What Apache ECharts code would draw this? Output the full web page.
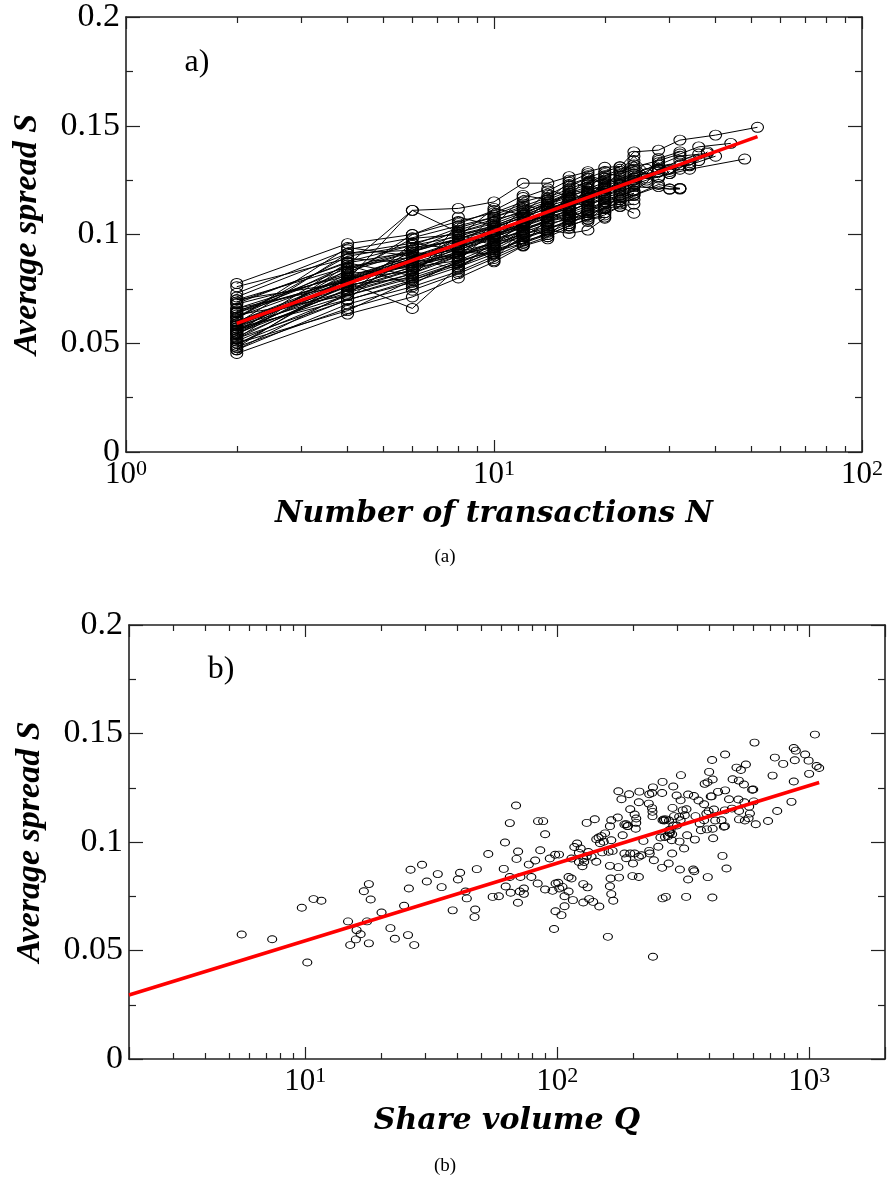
<!DOCTYPE html>
<html>
<head>
<meta charset="utf-8">
<title>Average spread vs N and Q</title>
<script src="https://cdn.jsdelivr.net/npm/echarts@6.0.0/dist/echarts.min.js"></script>
<style>
html, body { margin: 0; padding: 0; background: #fff; }
#chart { width: 890px; height: 1182px; }
</style>
</head>
<body>
<div id="chart"></div>
<script>
// a) average spread S against number of transactions N, one polyline per stock
var transactionLines = [
  [[2,.0775],[4,.0958],[6,.1000],[8,.1060],[10,.1100],[12,.1150],[14,.1180],[16,.1230],[18,.1260],[20,.1290],[22,.1310],[24,.1380],[28,.1388],[32,.1434],[40,.1457],[52,.1493]],
  [[2,.0730],[4,.0930],[6,.0985],[8,.1040],[10,.1080],[12,.1120],[14,.1160],[16,.1200],[18,.1230],[20,.1260],[22,.1290],[24,.1310],[28,.1340],[32,.1370],[36,.1403],[44,.1419]],
  [[2,.0713],[4,.0912],[6,.0960],[8,.1010],[10,.1060],[12,.1110],[14,.1150],[16,.1180],[18,.1200],[20,.1230],[24,.1280],[28,.1320],[34,.1316],[38,.1380]],
  [[2,.0683],[4,.0875],[6,.0950],[8,.0990],[10,.1040],[12,.1090],[14,.1130],[16,.1160],[18,.1190],[20,.1210],[24,.1250],[28,.1266],[34,.1300],[48,.1347]],
  [[2,.0644],[4,.0845],[6,.0930],[8,.0980],[10,.1020],[12,.1060],[14,.1100],[16,.1130],[18,.1160],[20,.1180],[22,.1200],[24,.1220],[30,.1209],[32,.1212]],
  [[2,.0621],[4,.0805],[6,.0900],[8,.0960],[10,.1000],[12,.1040],[14,.1080],[16,.1110],[18,.1140],[20,.1160],[22,.1180],[24,.1200],[26,.1240],[28,.1300],[32,.1320],[36,.1340]],
  [[2,.0598],[4,.0790],[6,.0880],[8,.0940],[10,.0990],[12,.1030],[14,.1060],[16,.1090],[18,.1120],[20,.1150],[22,.1170],[24,.1190]],
  [[2,.0583],[4,.0780],[6,.0870],[8,.0930],[10,.0980],[12,.1010],[14,.1050],[16,.1070],[18,.1090],[20,.1120],[22,.1150],[24,.1160]],
  [[2,.0560],[4,.0760],[6,.0850],[8,.0920],[10,.0960],[12,.1000],[14,.1030],[16,.1060],[18,.1080],[20,.1100],[22,.1128],[24,.1098]],
  [[2,.0545],[4,.0744],[6,.0836],[8,.0900],[10,.0950],[12,.0990],[14,.1020],[16,.1005],[18,.1020],[20,.1075]],
  [[2,.0522],[4,.0698],[6,.0790],[8,.0870],[10,.0930],[12,.0970],[14,.1000],[16,.1040],[18,.1070],[20,.1080]],
  [[2,.0483],[4,.0660],[6,.0744],[8,.0820],[10,.0890],[12,.0950],[14,.0990],[16,.1030]],
  [[2,.0453],[4,.0634],[6,.0713],[8,.0800],[10,.0874],[12,.0947],[14,.0980]],
  [[2,.0500],[4,.0700],[6,.0780],[8,.0850],[10,.0910],[12,.0980],[14,.1020],[16,.1070],[18,.1100],[20,.1140],[22,.1160]],
  [[2,.0560],[4,.0820],[6,.0982],[8,.1000],[10,.1030],[12,.1080],[14,.1120],[16,.1150],[18,.1180],[20,.1200]],
  [[2,.0590],[4,.0913],[6,.0928],[8,.1020],[10,.1070],[12,.1100],[14,.1140],[16,.1170],[18,.1210],[20,.1240],[22,.1260]],
  [[2,.0620],[4,.0860],[6,.1111],[8,.1120],[10,.1150],[12,.1236],[14,.1236],[16,.1266],[18,.1289],[20,.1309],[22,.1312]],
  [[2,.0650],[4,.0790],[6,.1111],[8,.1010],[10,.1050],[12,.1100],[14,.1140],[16,.1180]],
  [[2,.0580],[4,.0780],[6,.0660],[8,.0850],[10,.0930],[12,.1000]],
  [[2,.0600],[4,.0740],[6,.0820],[8,.0900],[10,.0960],[12,.1020],[14,.1060],[16,.1100],[18,.1130],[20,.1170],[22,.1190],[24,.1230],[26,.1250],[30,.1280],[32,.1300]],
  [[2,.0700],[4,.0850],[6,.0897],[8,.0950],[10,.1010],[12,.1050],[14,.1090],[16,.1120]],
  [[2,.0520],[4,.0770],[6,.0870],[8,.0910],[10,.0940],[12,.1020],[14,.1070],[16,.1100],[18,.1150],[20,.1180],[22,.1210],[24,.1250],[28,.1290]],
  [[2,.0560],[4,.0720],[6,.0810],[8,.0880],[10,.0920],[12,.0960],[14,.1010],[16,.1050],[18,.1100],[20,.1120],[24,.1140]],
  [[2,.0600],[4,.0800],[6,.0900],[8,.0970],[10,.1010],[12,.1060],[14,.1110],[16,.1160],[18,.1190],[20,.1220],[22,.1250],[24,.1270],[26,.1280],[30,.1300],[34,.1320],[40,.1360]],
  [[2,.0470],[4,.0680],[6,.0760],[8,.0830],[10,.0900],[12,.0960],[14,.1000],[16,.1040],[18,.1070],[20,.1090],[22,.1130],[24,.1180],[28,.1230],[32,.1212]],
  [[2,.0530],[4,.0750],[6,.0840],[8,.0940],[10,.1000],[12,.1040],[14,.1090],[16,.1120],[18,.1160],[20,.1190],[22,.1220],[24,.1240]],
  [[2,.0640],[4,.0830],[6,.0920],[8,.0980],[10,.1030],[12,.1080],[14,.1120],[16,.1150],[18,.1170],[20,.1210]],
  [[2,.0570],[4,.0790],[6,.0890],[8,.0950],[10,.0990],[12,.1050],[14,.1100],[16,.1140],[18,.1180],[20,.1210],[22,.1240],[24,.1260],[28,.1320],[32,.1360],[38,.1373]],
  [[2,.0510],[4,.0720],[6,.0800],[8,.0870],[10,.0940],[12,.1010]],
  [[2,.0540],[4,.0800],[6,.0860],[8,.0900],[10,.0970],[12,.1020],[14,.1060],[16,.1080],[18,.1110],[20,.1150],[22,.1180],[24,.1200]],
  [[2,.0620],[4,.0900],[6,.0950],[8,.1030],[10,.1080],[12,.1130],[14,.1170],[16,.1210],[18,.1240],[20,.1270],[22,.1300],[24,.1320]],
  [[2,.0660],[4,.0820],[6,.0850],[8,.0880],[10,.0950]],
  [[2,.0690],[4,.0870],[6,.0920],[8,.1000],[10,.1040],[12,.1090],[14,.1150],[16,.1190],[18,.1220]],
  [[2,.0590],[4,.0760],[6,.0850],[8,.0910],[10,.0960],[12,.1000],[14,.1040],[16,.1080],[18,.1110],[20,.1140],[22,.1160],[24,.1180],[28,.1220],[30,.1209],[32,.1209]],
  [[2,.0500],[4,.0650],[6,.0790],[8,.0860],[10,.0920],[12,.0980],[14,.1030],[16,.1050],[18,.1090],[20,.1120]],
  [[2,.0550],[4,.0780],[6,.0880],[8,.0940],[10,.1000],[12,.1050],[14,.1090],[16,.1130],[18,.1170],[20,.1200],[22,.1230],[24,.1260],[26,.1260],[28,.1300],[32,.1340],[36,.1370]],
  [[2,.0480],[4,.0800],[6,.0830],[8,.0960],[10,.0990],[12,.1070],[14,.1080],[16,.1160]],
  [[2,.0700],[4,.0780],[6,.0920],[8,.0890],[10,.1060],[12,.1010],[14,.1130],[16,.1100],[18,.1200],[20,.1150]],
  [[2,.0630],[4,.0720],[6,.0960],[8,.0930],[10,.0990],[12,.1120],[14,.1050],[16,.1200],[18,.1150],[20,.1260],[22,.1230],[24,.1290]],
  [[2,.0550],[4,.0870],[6,.0810],[8,.1000],[10,.0950],[12,.1060],[14,.1150],[16,.1090],[18,.1240],[20,.1190]],
  [[2,.0760],[4,.0890],[6,.0870],[8,.0990],[10,.1120],[12,.1090],[14,.1200],[16,.1250],[18,.1210],[20,.1280],[22,.1270],[24,.1340],[26,.1280],[28,.1350],[32,.1380]],
  [[2,.0470],[4,.0730],[6,.0890],[8,.0840],[10,.0970],[12,.1040],[14,.0990],[16,.1080]],
  [[2,.0610],[4,.0940],[6,.0900],[8,.0930],[10,.1090],[12,.1140],[14,.1100],[16,.1220],[18,.1260],[20,.1230],[22,.1280],[24,.1300],[28,.1260],[30,.1290]],
  [[2,.0520],[4,.0860],[6,.0770],[8,.0880],[10,.1020],[12,.0950],[14,.1080],[16,.1150],[18,.1130]],
  [[2,.0680],[4,.0810],[6,.1000],[8,.1080],[10,.1040],[12,.1170],[14,.1210],[16,.1170],[18,.1270],[20,.1250]],
  [[2,.0570],[4,.0700],[6,.0940],[8,.0970],[10,.0880],[12,.1030],[14,.1120],[16,.1040],[18,.1140],[20,.1100],[22,.1200]],
  [[2,.0660],[4,.0770],[6,.0800],[8,.1050],[10,.1110],[12,.1180],[14,.1160],[16,.1240],[18,.1280],[20,.1220],[22,.1290],[24,.1360],[26,.1300],[28,.1330],[30,.1280],[34,.1330]],
  [[2,.0490],[4,.0780],[6,.0860],[8,.0920],[10,.0910],[12,.0990],[14,.1060],[16,.1120],[18,.1060],[20,.1130],[22,.1140],[24,.1190]],
  [[2,.0580],[6,.0820],[10,.0990],[16,.1110],[20,.1170]],
  [[2,.0640],[6,.0890],[12,.1060],[18,.1190],[24,.1230]],
  [[2,.0540],[4,.0840],[8,.0980],[12,.1080],[16,.1190],[20,.1220]]
]
var fitN = [2, 52]
var fitSpreadN = [0.0591, 0.145]

// b) average spread S against share volume Q, one point per stock
var volumeSpread = [
  [5.6,.0574],[7.4,.0552],[9.7,.0697],[10.8,.0737],[11.6,.0729],[10.2,.0445],
  [14.8,.0634],[15.1,.0525],[15.9,.0551],[16.0,.0594],[16.6,.0575],[17.1,.0773],[17.9,.0806],[18.2,.0735],[17.6,.0634],[17.9,.0533],
  [20.1,.0675],[21.8,.0603],[22.7,.0554],[24.7,.0706],[25.8,.0786],[25.6,.0571],[27.1,.0525],[26.2,.0872],[29.1,.0895],[30.4,.0818],
  [33.6,.0852],[34.8,.0792],[38.5,.0685],[40.4,.0827],[41.2,.0858],[43.3,.0772],[43.8,.0740],[47.3,.0689],[47.0,.0654],[48.0,.0875],
  [53.3,.0945],[55.5,.0747],[58.7,.0750],[61.4,.0876],[62.1,.0998],[64.9,.1087],[62.5,.0795],[64.9,.0839],[65.4,.0766],[68.7,.1168],
  [69.9,.0720],[71.1,.0772],[73.8,.0786],[73.8,.0761],[69.0,.0922],[70.0,.0956],[71.5,.0839],[79,.0839],[77.2,.0896],[81.8,.0915],
  [83.7,.0809],[85.7,.0962],[89.6,.1036],[84,.1096],[88,.1096],[89.6,.0781],[95.9,.0775],[98.6,.0809],[101,.0812],[102,.0786],
  [105,.0793],[111,.0772],[93.5,.0924],[98.2,.0941],[101.7,.0942],[98.5,.0681],[104,.0663],[97.2,.0599],[107,.0704],[107,.0750],
  [111,.0839],[114,.0832],[115.5,.0732],[117,.0977],[120,.0993],[124,.0970],[122,.0950],[114,.0924],[122,.0908],[127,.0924],
  [131,.0935],[133,.0954],[126,.0888],[128,.0908],[127,.0721],[127,.0806],[132,.0791],[134,.0737],[139,.0724],[147,.0703],
  [159,.0563],[162,.0796],[164,.0760],[167,.0729],[131,.1088],[141,.1105],[143,.1013],[146,.1021],[150,.1027],[153,.1001],
  [155,.1040],[148,.0994],[137,.0932],[143,.0909],[151,.0952],[160,.0955],[166,.0959],[164,.1008],[162,.1073],[164,.1100],
  [174,.1113],[162,.0890],[163,.0832],[175,.0884],[176,.0836],[182,.1031],[188,.1082],[191,.1074],[185,.0947],[188,.0925],
  [195,.0947],[200,.0901],[211,.0932],[216,.0939],[203,.0947],[199,.0843],[211,.0839],
  [240,.0471],[262,.0740],[270,.0747],[325,.0747],[413,.0744],
  [175,.1234],[180,.1197],[193,.1220],[212,.1232],[232,.1220],[238,.1226],[240,.1252],[261,.1226],[262,.1277],[289,.1256],[310,.1308],
  [211,.1183],[231,.1177],[238,.1156],[239,.1139],[239,.1119],[195,.1151],[203,.1127],[206,.1108],[206,.1088],[205,.1061],[190,.1073],[185,.1081],
  [298,.1214],[309,.1192],[331,.1219],[349,.1212],[364,.1191],[383,.1174],[410,.1210],
  [287,.1157],[291,.1119],[305,.1116],[299,.1076],[278,.1099],[266,.1099],[262,.1100],[315,.1146],[326,.1151],[321,.1123],[309,.1100],
  [289,.1076],[282,.1058],[279,.1044],[268,.1023],[265,.1104],[270,.1104],
  [354,.1119],[368,.1085],[383,.1100],[391,.1131],[399,.1142],[419,.1150],[424,.1099],[414,.1061],[416,.1017],[449,.1100],[463,.1073],[459,.1070],[463,.1146],
  [453,.0936],[470,.0878],[396,.0838],[331,.0827],[347,.0873],[350,.0865],[307,.0873],[277,.0901],[261,.0881],[286,.0947],[319,.0970],[306,.1002],[285,.1008],
  [242,.0916],[232,.0959],[233,.0947],[220,.1005],[252,.0978],[257,.1021],[280,.1042],[286,.1036],[278,.1054],[275,.1027],
  [328,.1031],[352,.1011],[372,.1054],[393,.1058],
  [385,.1268],[395,.1275],[401,.1323],[407,.1210],[412,.1378],[414,.1288],[435,.1231],[464,.1238],[464,.1403],[481,.1197],[494,.1154],
  [497,.1289],[515,.1343],[524,.1196],[526,.1283],[527,.1143],[527,.1104],[536,.1332],[551,.1265],[553,.1183],[556,.1099],[561,.1357],
  [575,.1110],[578,.1163],[582,.1131],[594,.1241],[600,.1242],[603,.1187],[607,.1458],[614,.1082],
  [687,.1097],[716,.1306],[731,.1389],[747,.1143],[789,.1360],[851,.1185],[869,.1279],[869,.1433],[877,.1377],[885,.1421],[964,.1403],
  [995,.1375],[1000,.1314],[1054,.1495],[1071,.1350],[1096,.1341]
]
var fitQ = [2, 1096]
var fitSpreadQ = [0.0295, 0.1274]

// minor ticks of the log axes
var minorTicksN = [2, 3, 4, 5, 6, 7, 8, 9, 20, 30, 40, 50, 60, 70, 80, 90]
var minorTicksQ = [3, 4, 5, 6, 7, 8, 9, 20, 30, 40, 50, 60, 70, 80, 90, 200, 300, 400, 500, 600, 700, 800, 900]

var serif = 'Liberation Serif'
var axisColor = '#222'

// 10^k labels, empty for the end ticks that are not powers of ten
function powerLabel (v) {
  var e = Math.log10(v)
  var k = Math.round(e)
  if (Math.abs(e - k) > 1e-6) return ''
  return '{b|10}{s|' + k + '}'
}

function logAxis (grid, pos, min, max, withLabels) {
  return {
    type: 'log',
    logBase: 10,
    gridIndex: grid,
    position: pos,
    min: min,
    max: max,
    axisLine: { show: true, onZero: false, lineStyle: { color: axisColor, width: 1.6 } },
    axisTick: { show: true, inside: true, length: 12, lineStyle: { color: axisColor, width: 1.2 } },
    splitLine: { show: false },
    axisLabel: {
      show: withLabels,
      margin: 6,
      formatter: powerLabel,
      rich: {
        b: { fontFamily: serif, fontSize: 31, color: '#000', lineHeight: 32, verticalAlign: 'bottom' },
        s: { fontFamily: serif, fontSize: 22, color: '#000', lineHeight: 32, verticalAlign: 'top' }
      }
    }
  }
}

function minorLogAxis (grid, pos, min, max, values) {
  return {
    type: 'log',
    logBase: 10,
    gridIndex: grid,
    position: pos,
    min: min,
    max: max,
    axisLine: { show: false, onZero: false },
    axisTick: { show: true, inside: true, length: 6, customValues: values, lineStyle: { color: axisColor, width: 1.2 } },
    axisLabel: { show: false },
    splitLine: { show: false }
  }
}

function spreadAxis (grid, pos, withLabels) {
  return {
    type: 'value',
    gridIndex: grid,
    position: pos,
    min: 0,
    max: 0.2,
    interval: 0.05,
    axisLine: { show: true, onZero: false, lineStyle: { color: axisColor, width: 1.6 } },
    axisTick: { show: true, inside: true, length: 14, lineStyle: { color: axisColor, width: 1.2 } },
    minorTick: { show: true, splitNumber: 2, length: 7, lineStyle: { color: axisColor, width: 1.2 } },
    splitLine: { show: false },
    axisLabel: { show: withLabels, margin: 6, fontFamily: serif, fontSize: 34, color: '#000' }
  }
}

var yTitle = {
  name: 'Average spread S',
  nameLocation: 'middle',
  nameGap: 82,
  nameTextStyle: { fontFamily: serif, fontSize: 34, fontWeight: 'bold', fontStyle: 'italic', color: '#000' }
}
var xTitleStyle = { fontFamily: 'DejaVu Serif', fontSize: 30, fontWeight: 'bold', fontStyle: 'italic', color: '#000' }

var xA = logAxis(0, 'bottom', 1, 100, true)
xA.name = 'Number of transactions N'
xA.nameLocation = 'middle'
xA.nameGap = 47
xA.nameTextStyle = xTitleStyle
var xB = logAxis(1, 'bottom', 2, 2000, true)
xB.name = 'Share volume Q'
xB.nameLocation = 'middle'
xB.nameGap = 47
xB.nameTextStyle = xTitleStyle

var yA = Object.assign(spreadAxis(0, 'left', true), yTitle)
var yB = Object.assign(spreadAxis(1, 'left', true), yTitle)

var series = []
transactionLines.forEach(function (line, i) {
  series.push({
    type: 'line',
    name: 'stock ' + (i + 1),
    xAxisIndex: 0,
    yAxisIndex: 0,
    data: line,
    symbol: 'circle',
    symbolSize: [12, 10],
    showSymbol: true,
    lineStyle: { color: '#000', width: 1 },
    itemStyle: { color: 'transparent', borderColor: '#000', borderWidth: 1 },
    emphasis: { disabled: true },
    silent: true,
    z: 2
  })
})
series.push({
  type: 'line',
  name: 'fit N',
  xAxisIndex: 0,
  yAxisIndex: 0,
  data: fitN.map(function (n, i) { return [n, fitSpreadN[i]] }),
  showSymbol: false,
  lineStyle: { color: '#ff0000', width: 3.5 },
  silent: true,
  z: 5
})
series.push({
  type: 'scatter',
  name: 'stocks Q',
  xAxisIndex: 2,
  yAxisIndex: 2,
  data: volumeSpread,
  symbol: 'circle',
  symbolSize: [9, 7],
  itemStyle: { color: 'transparent', borderColor: '#000', borderWidth: 1, opacity: 1 },
  emphasis: { disabled: true },
  silent: true,
  z: 2
})
series.push({
  type: 'line',
  name: 'fit Q',
  xAxisIndex: 2,
  yAxisIndex: 2,
  data: fitQ.map(function (q, i) { return [q, fitSpreadQ[i]] }),
  showSymbol: false,
  lineStyle: { color: '#ff0000', width: 3.5 },
  silent: true,
  z: 5
})

var myChart = echarts.init(document.getElementById('chart'))
var option = {
  animation: false,
  backgroundColor: '#fff',
  grid: [
    { left: 126, top: 17, width: 736, height: 435 },
    { left: 129, top: 625, width: 756, height: 434 }
  ],
  xAxis: [
    xA,
    logAxis(0, 'top', 1, 100, false),
    xB,
    logAxis(1, 'top', 2, 2000, false),
    minorLogAxis(0, 'bottom', 1, 100, minorTicksN),
    minorLogAxis(0, 'top', 1, 100, minorTicksN),
    minorLogAxis(1, 'bottom', 2, 2000, minorTicksQ),
    minorLogAxis(1, 'top', 2, 2000, minorTicksQ)
  ],
  yAxis: [
    yA,
    spreadAxis(0, 'right', false),
    yB,
    spreadAxis(1, 'right', false)
  ],
  graphic: [
    { type: 'text', x: 197, y: 63, style: { text: 'a)', font: '32px "Liberation Serif"', fill: '#000', align: 'center', verticalAlign: 'middle' } },
    { type: 'text', x: 221, y: 670, style: { text: 'b)', font: '32px "Liberation Serif"', fill: '#000', align: 'center', verticalAlign: 'middle' } },
    { type: 'text', x: 445, y: 557, style: { text: '(a)', font: '19px "Liberation Serif"', fill: '#000', align: 'center', verticalAlign: 'middle' } },
    { type: 'text', x: 445, y: 1166, style: { text: '(b)', font: '19px "Liberation Serif"', fill: '#000', align: 'center', verticalAlign: 'middle' } }
  ],
  series: series
}
myChart.setOption(option)
</script>
</body>
</html>
